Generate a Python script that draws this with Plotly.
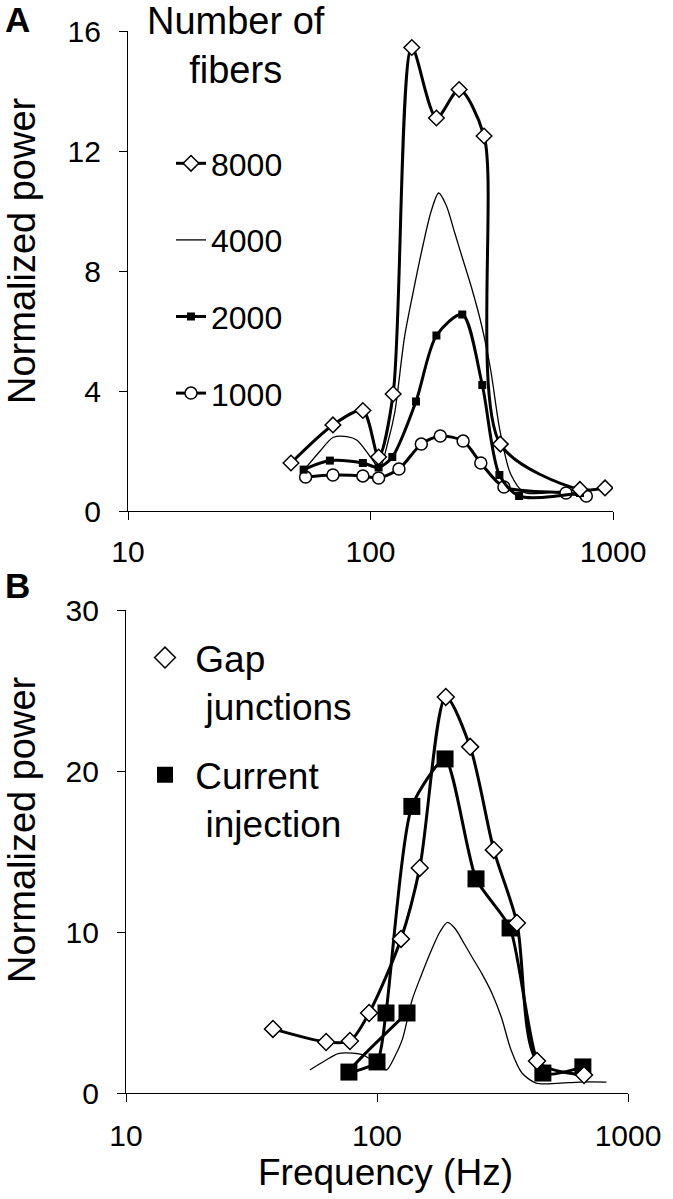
import plotly.graph_objects as go

# ---------------- data ----------------
# Panel A: number of fibers
f8000 = [47, 70, 93, 108, 124, 148, 187, 232, 294, 343, 730, 927]
p8000 = [1.6, 2.87, 3.35, 1.8, 3.9, 15.45, 13.1, 14.05, 12.5, 2.23, 0.72, 0.77]

f4000 = [54, 62, 70, 80, 88, 100, 109, 118, 126, 138, 150, 165, 178, 191, 205,
         222, 239, 262, 287, 313, 342, 378, 430, 520, 640, 820]
p4000 = [1.43, 2.0, 2.45, 2.48, 2.36, 1.8, 1.43, 2.3, 3.3, 5.78, 7.3, 8.9, 10.0,
         10.6, 10.2, 9.3, 8.45, 7.4, 6.2, 4.7, 2.67, 1.24, 0.62, 0.6, 0.68, 0.68]

f2000 = [53, 68, 93, 108, 123, 154, 187, 239, 289, 340, 410, 731]
p2000 = [1.38, 1.68, 1.6, 1.45, 1.8, 3.65, 5.85, 6.55, 4.2, 1.2, 0.5, 0.6]

f1000 = [54, 70, 93, 108, 131, 162, 194, 241, 285, 355, 640, 776]
p1000 = [1.13, 1.2, 1.17, 1.1, 1.4, 2.23, 2.5, 2.33, 1.6, 0.8, 0.6, 0.5]

# Panel B
fGap = [38.5, 62.7, 78, 93, 124.6, 148, 188, 235, 292, 361, 434, 668]
pGap = [3.98, 3.17, 3.23, 4.97, 9.57, 13.98, 24.6, 21.5, 15.1, 10.56, 1.99, 1.12]

fCur = [131.7, 77.3, 100, 108.6, 137.7, 186.7, 248, 339, 458, 661]
pCur = [4.97, 1.3, 1.93, 4.97, 17.8, 20.75, 13.3, 10.25, 1.24, 1.62]

x_ticks = [10, 100, 1000]
yA_ticks = [0, 4, 8, 12, 16]
yB_ticks = [0, 10, 20, 30]

# ---------------- layout helpers ----------------
W, H = 673, 1199
FONT = "Liberation Sans, Arial, Helvetica, sans-serif"
NB = "\u00a0"


def px_x(p):
    return p / W


def px_y(p):
    return 1 - p / H


THICK = 3
THIN = 1.3

fig = go.Figure()

# ---- Panel A traces ----
fig.add_trace(go.Scatter(
    x=f4000, y=p4000, mode="lines", name="4000",
    line=dict(color="black", width=THIN, shape="spline", smoothing=0.8),
    xaxis="x", yaxis="y", legend="legend", legendgroup="a4000", legendrank=2))
fig.add_trace(go.Scatter(
    x=f1000, y=p1000, mode="lines+markers", name="1000",
    line=dict(color="black", width=THICK, shape="spline", smoothing=0.8),
    marker=dict(symbol="circle", size=12, color="white",
                line=dict(color="black", width=1.5)),
    xaxis="x", yaxis="y", legend="legend", legendgroup="a1000", legendrank=4))
fig.add_trace(go.Scatter(
    x=f2000, y=p2000, mode="lines+markers", name="2000",
    line=dict(color="black", width=THICK, shape="spline", smoothing=0.8),
    marker=dict(symbol="square", size=8, color="black"),
    xaxis="x", yaxis="y", legend="legend", legendgroup="a2000", legendrank=3))
fig.add_trace(go.Scatter(
    x=f8000, y=p8000, mode="lines+markers", name="8000",
    line=dict(color="black", width=THICK, shape="spline", smoothing=0.8),
    marker=dict(symbol="diamond", size=12, color="white",
                line=dict(color="black", width=1.5)),
    xaxis="x", yaxis="y", legend="legend", legendgroup="a8000", legendrank=1))

# ---- Panel B traces ----
fig.add_trace(go.Scatter(
    x=f4000, y=p4000, mode="lines", showlegend=False,
    line=dict(color="black", width=THIN, shape="spline", smoothing=0.8),
    xaxis="x2", yaxis="y2"))
fig.add_trace(go.Scatter(
    x=fCur, y=pCur, mode="lines+markers", showlegend=False,
    line=dict(color="black", width=THICK, shape="spline", smoothing=0.6),
    marker=dict(symbol="square", size=17, color="black"),
    xaxis="x2", yaxis="y2"))
fig.add_trace(go.Scatter(
    x=fGap, y=pGap, mode="lines+markers", showlegend=False,
    line=dict(color="black", width=THICK, shape="spline", smoothing=0.8),
    marker=dict(symbol="diamond", size=13, color="white",
                line=dict(color="black", width=1.5)),
    xaxis="x2", yaxis="y2"))

# legend-only keys for panel B (marker only, as in the reference)
fig.add_trace(go.Scatter(
    x=[None], y=[None], mode="markers",
    name=NB + "Gap<br>" + NB * 2 + "junctions",
    marker=dict(symbol="diamond", size=17, color="white",
                line=dict(color="black", width=1.5)),
    xaxis="x2", yaxis="y2", legend="legend2", legendgroup="bgap", legendrank=1))
fig.add_trace(go.Scatter(
    x=[None], y=[None], mode="markers",
    name=NB + "Current<br>" + NB * 2 + "injection",
    marker=dict(symbol="square", size=20, color="black"),
    xaxis="x2", yaxis="y2", legend="legend2", legendgroup="bcur", legendrank=2))

axis_common = dict(
    showline=True, linecolor="black", linewidth=1.3,
    ticks="outside", ticklen=8, tickwidth=1.3, tickcolor="black",
    showgrid=False, zeroline=False, mirror=False, automargin=False,
    tickfont=dict(family=FONT, size=30, color="black"),
)

fig.update_layout(
    template="none",
    width=W, height=H,
    margin=dict(l=0, r=0, t=0, b=0, autoexpand=False),
    paper_bgcolor="white", plot_bgcolor="white",
    font=dict(family=FONT, color="black"),
    xaxis=dict(domain=[px_x(128), px_x(613)], type="log", range=[1, 3],
               tickvals=x_ticks, ticktext=[str(v) for v in x_ticks],
               anchor="y", ticklabelstandoff=6, **axis_common),
    yaxis=dict(domain=[px_y(511), px_y(31)], range=[0, 16],
               tickvals=yA_ticks, anchor="x", ticklabelstandoff=12,
               **axis_common),
    xaxis2=dict(domain=[px_x(126), px_x(628)], type="log", range=[1, 3],
                tickvals=x_ticks, ticktext=[str(v) for v in x_ticks],
                anchor="y2", ticklabelstandoff=8, **axis_common),
    yaxis2=dict(domain=[px_y(1093), px_y(610)], range=[0, 30],
                tickvals=yB_ticks, anchor="x2", ticklabelstandoff=12,
                **axis_common),
    legend=dict(x=px_x(171), y=px_y(136), xanchor="left", yanchor="top",
                font=dict(family=FONT, size=32, color="black"),
                bgcolor="rgba(0,0,0,0)", borderwidth=0,
                traceorder="grouped", tracegroupgap=32, itemwidth=30),
    legend2=dict(x=px_x(145), y=px_y(627), xanchor="left", yanchor="top",
                 font=dict(family=FONT, size=37, color="black"),
                 bgcolor="rgba(0,0,0,0)", borderwidth=0, valign="top",
                 traceorder="grouped", tracegroupgap=18, itemwidth=30),
    showlegend=True,
)

annotations = [
    dict(text="<b>A</b>", x=px_x(3), y=px_y(-2), xanchor="left", yanchor="top",
         font=dict(size=35, family=FONT)),
    dict(text="<b>B</b>", x=px_x(3), y=px_y(564), xanchor="left", yanchor="top",
         font=dict(size=35, family=FONT)),
    dict(text="Number of<br>fibers", x=px_x(236), y=px_y(-2), xanchor="center",
         yanchor="top", align="center", font=dict(size=38, family=FONT)),
    dict(text="Normalized power", textangle=-90, x=px_x(22), y=px_y(251),
         xanchor="center", yanchor="middle", font=dict(size=38, family=FONT)),
    dict(text="Normalized power", textangle=-90, x=px_x(22), y=px_y(830),
         xanchor="center", yanchor="middle", font=dict(size=38, family=FONT)),
    dict(text="Frequency (Hz)", x=px_x(385), y=px_y(1172), xanchor="center",
         yanchor="middle", font=dict(size=37, family=FONT)),
]
for a in annotations:
    a.update(xref="paper", yref="paper", showarrow=False)
fig.update_layout(annotations=annotations)

# remove the browser's default 8px page margin so the figure sits at (0, 0)
fig.write_html("out.html",
               config={"displayModeBar": False},
               post_script="document.body.style.margin='0';"
                           "document.body.style.overflow='hidden';")
